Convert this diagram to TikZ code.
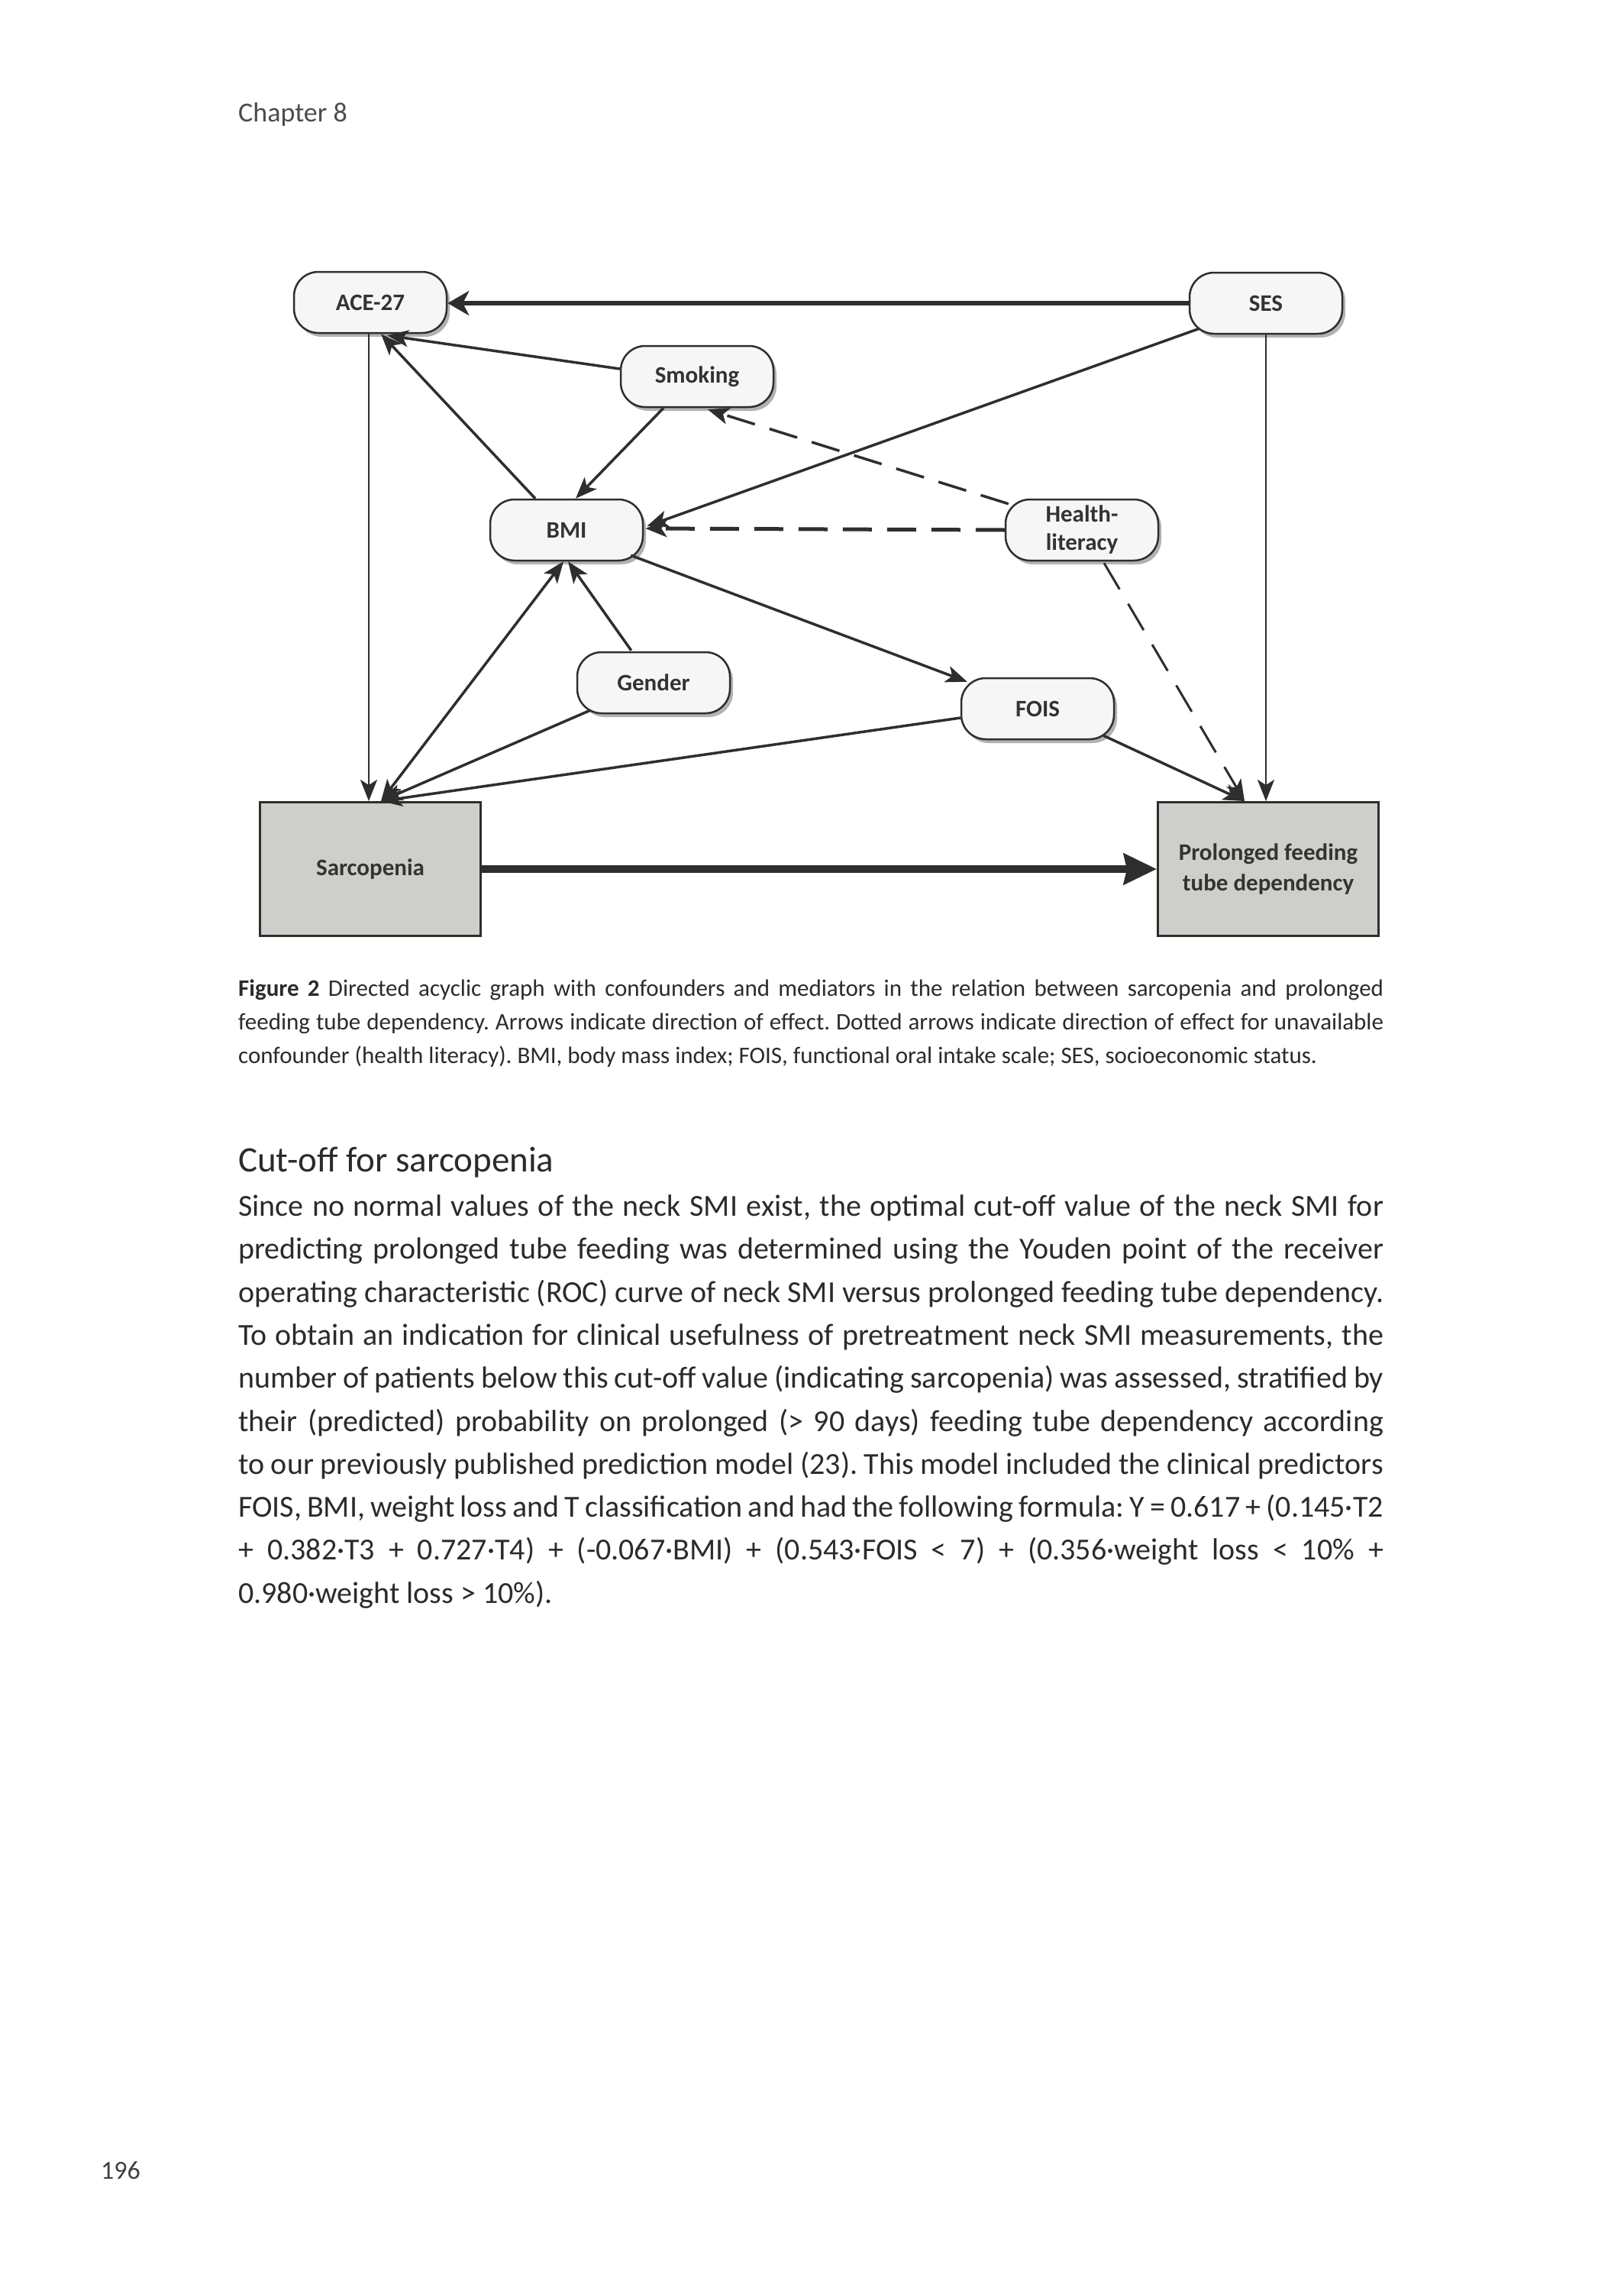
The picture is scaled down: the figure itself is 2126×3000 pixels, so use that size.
\documentclass[tikz,border=0pt]{standalone}
\usepackage{fontspec}
\setmainfont{Carlito}
\usetikzlibrary{arrows.meta,shadows,calc}
\definecolor{txt}{HTML}{2B2B2B}
\definecolor{boxfill}{HTML}{F6F6F6}
\definecolor{rectfill}{HTML}{CECECA}
\definecolor{edgec}{HTML}{2E2E2E}
\newcommand\jl[1]{\hbox to 1500pt{#1}}
\frenchspacing
\begin{document}
\frenchspacing
\begin{tikzpicture}[x=1pt,y=-1pt,
  rbox/.style={draw=edgec, line width=2.5pt, fill=boxfill, rounded corners=32pt,
    minimum width=200pt, minimum height=80pt, inner sep=0pt,
    font=\fontsize{31}{37}\selectfont\bfseries, text=black!80, align=center,
    drop shadow={shadow xshift=4pt, shadow yshift=-5pt, opacity=0.3, fill=black}},
  sqbox/.style={draw=edgec, line width=3pt, fill=rectfill, minimum width=289pt,
    minimum height=175pt, inner sep=0pt, font=\fontsize{31}{40}\selectfont\bfseries,
    text=black!80, align=center},
  arr/.style={draw=edgec, line width=3.5pt, -{Stealth[length=28pt,width=22pt,inset=7pt]}},
  thinarr/.style={arr, line width=2.5pt},
  dsh/.style={arr, dash pattern=on 38pt off 20pt},
  bodytext/.style={anchor=base west, inner sep=0pt, text=txt, font=\fontsize{40}{57}\selectfont},
  captext/.style={anchor=base west, inner sep=0pt, text=txt, font=\fontsize{31}{44}\selectfont},
]
\useasboundingbox (0,0) rectangle (2126,3000);
\fill[white] (0,0) rectangle (2126,3000);

% header and page number
\node[anchor=base west, inner sep=0pt, text=black!70, font=\fontsize{36}{40}\selectfont] (chap) at (312,159) {Chapter 8};
\node[anchor=base west, inner sep=0pt, text=black!75, font=\fontsize{34}{40}\selectfont] (pnum) at (132,2853) {196};

% diagram nodes
\node[rbox] (ace) at (485,396) {ACE-27};
\node[rbox] (ses) at (1658,397) {SES};
\node[rbox] (smk) at (913,493) {Smoking};
\node[rbox] (bmi) at (742,694) {BMI};
\node[rbox] (hl) at (1417,694) {Health-\\literacy};
\node[rbox] (gen) at (856,894) {Gender};
\node[rbox] (fois) at (1359,928) {FOIS};
\node[sqbox] (sarc) at (485,1138) {Sarcopenia};
\node[sqbox] (prol) at (1661,1138) {Prolonged feeding\\tube dependency};

\coordinate (sarcIn) at ($(sarc.north)+(14,0)$);
\coordinate (prolIn) at ($(prol.north)+(-31,0)$);

% edges
\draw[arr, line width=5.5pt, -{Stealth[length=28pt,width=32pt,inset=8pt]}] (ses.west) -- (ses.west -| ace.east);
\draw[thinarr] ([xshift=-2pt]ace.south) -- ([xshift=-2pt]ace.south |- sarc.north);
\draw[thinarr] (ses.south) -- (ses.south |- prol.north);
\draw[arr] ($(smk.west)+(0,-10)$) -- ($(ace.south)+(22,2)$);
\draw[arr] ($(bmi.north)+(-41,0)$) -- ($(ace.south)+(14,0)$);
\draw[arr] ($(smk.south)+(-44,0)$) -- ($(bmi.north)+(12,0)$);
\draw[arr] ($(ses.south west)+(14,-8)$) -- ($(bmi.east)+(4,-5)$);
\draw[dsh, line width=5pt] (hl.west) -- ($(bmi.east)+(2,-2)$);
\draw[dsh] ($(hl.north west)+(5,7)$) -- ($(smk.south)+(14,2)$);
\draw[dsh, line width=3pt, dash pattern=on 40pt off 22pt] ($(hl.south)+(29,2)$) -- (prolIn);
\draw[arr] ($(bmi.south east)+(-17,-8)$) -- ($(fois.north west)+(9,6)$);
\draw[arr] ($(fois.south east)+(-15,-6)$) -- (prolIn);
\draw[arr] ($(fois.west)+(0,12)$) -- (sarcIn);
\draw[arr] ($(gen.south west)+(18,-5)$) -- (sarcIn);
\draw[arr] ($(gen.north west)+(72,-1)$) -- ($(bmi.south)+(2,0)$);
\draw[arr, {Stealth[length=28pt,width=22pt,inset=7pt]}-{Stealth[length=28pt,width=22pt,inset=7pt]}] (sarcIn) -- ($(bmi.south)+(-4,0)$);
\draw[draw=edgec, line width=10pt, -{Stealth[length=43pt,width=40pt,inset=4pt]}] (sarc.east) -- (prol.west);

% caption
\node[captext] (c1) at (312,1304) {\jl{\textbf{Figure 2} Directed acyclic graph with confounders and mediators in the relation between sarcopenia and prolonged}};
\node[captext] (c2) at (312,1348) {\jl{feeding tube dependency. Arrows indicate direction of effect. Dotted arrows indicate direction of effect for unavailable}};
\node[captext] (c3) at (312,1392) {confounder (health literacy). BMI, body mass index; FOIS, functional oral intake scale; SES, socioeconomic status.};

% heading and body
\node[anchor=base west, inner sep=0pt, text=txt, font=\fontsize{47}{50}\selectfont] (head) at (312,1534) {Cut-off for sarcopenia};
\node[bodytext] (b1) at (312,1592) {\jl{Since no normal values of the neck SMI exist, the optimal cut-off value of the neck SMI for}};
\node[bodytext] (b2) at (312,1648) {\jl{predicting prolonged tube feeding was determined using the Youden point of the receiver}};
\node[bodytext] (b3) at (312,1705) {\jl{operating characteristic (ROC) curve of neck SMI versus prolonged feeding tube dependency.}};
\node[bodytext] (b4) at (312,1761) {\jl{To obtain an indication for clinical usefulness of pretreatment neck SMI measurements, the}};
\node[bodytext] (b5) at (312,1817) {\jl{number of patients below this cut-off value (indicating sarcopenia) was assessed, stratified by}};
\node[bodytext] (b6) at (312,1874) {\jl{their (predicted) probability on prolonged (> 90 days) feeding tube dependency according}};
\node[bodytext] (b7) at (312,1930) {\jl{to our previously published prediction model (23). This model included the clinical predictors}};
\node[bodytext] (b8) at (312,1986) {\jl{FOIS, BMI, weight loss and T classification and had the following formula: Y = 0.617 + (0.145·T2}};
\node[bodytext] (b9) at (312,2042) {\jl{+ 0.382·T3 + 0.727·T4) + (-0.067·BMI) + (0.543·FOIS < 7) + (0.356·weight loss < 10\% +}};
\node[bodytext] (b10) at (312,2099) {0.980·weight loss > 10\%).};
\end{tikzpicture}
\end{document}
